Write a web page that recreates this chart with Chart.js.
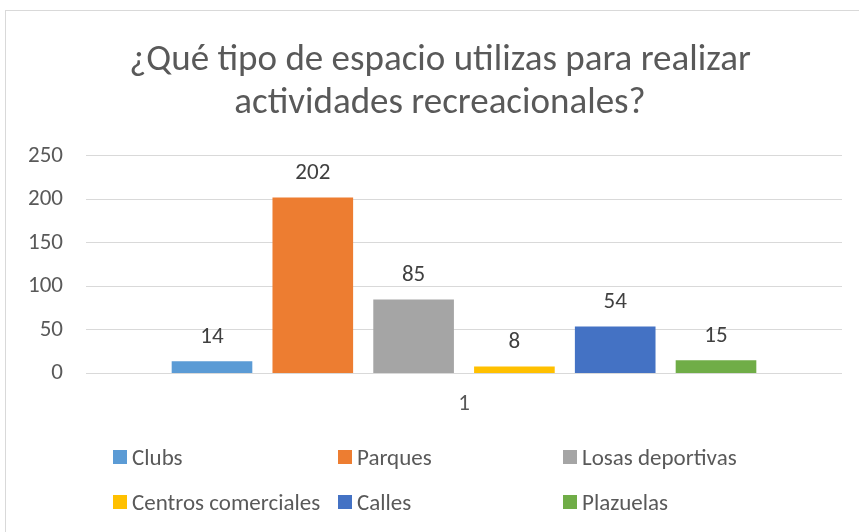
<!DOCTYPE html>
<html>
<head>
<meta charset="utf-8">
<script src="https://cdn.jsdelivr.net/npm/chart.js@4.4.0/dist/chart.umd.min.js"></script>
<style>
  html, body { margin: 0; padding: 0; background: #fff; }
  #wrap { position: relative; width: 859px; height: 532px; overflow: hidden; }
  #frame { position: absolute; left: 5px; top: 10px; width: 900px; height: 600px; border: 1px solid #d9d9d9; }
  canvas { position: absolute; left: 0; top: 0; }
  #legend { position: absolute; left: 113px; top: 434px; display: grid;
    grid-template-columns: 225px 225px 225px; grid-auto-rows: 45px;
    font-family: Carlito, Lato, sans-serif; font-size: 23px; color: #595959; }
  #legend .item { display: flex; align-items: center; white-space: nowrap; height: 45px; }
  #legend .box { width: 14px; height: 14px; margin: 0 5px 0 0; flex: none; }
</style>
</head>
<body>
<div id="wrap">
  <div id="frame"></div>
  <canvas id="chart" width="859" height="532"></canvas>
  <div id="legend"></div>
</div>
<script>
// ===== Data =====
const categories = ['1'];
const seriesNames = ['Clubs', 'Parques', 'Losas deportivas', 'Centros comerciales', 'Calles', 'Plazuelas'];
const seriesValues = [14, 202, 85, 8, 54, 15];
const seriesColors = ['#5B9BD5', '#ED7D31', '#A5A5A5', '#FFC000', '#4472C4', '#70AD47'];
const yTicks = [0, 50, 100, 150, 200, 250];

const fontFamily = "Carlito, Lato, sans-serif";
const textColor = '#595959';

Chart.defaults.font.family = fontFamily;
Chart.defaults.color = textColor;

// value labels above each bar
const valueLabels = {
    id: 'valueLabels',
    afterDatasetsDraw(chart) {
        const { ctx } = chart;
        ctx.save();
        ctx.font = `23px ${fontFamily}`;
        ctx.fillStyle = '#404040';
        ctx.textAlign = 'center';
        ctx.textBaseline = 'middle';
        chart.data.datasets.forEach((ds, i) => {
            chart.getDatasetMeta(i).data.forEach((bar, j) => {
                ctx.fillText(ds.data[j], bar.x, bar.y - 24);
            });
        });
        ctx.restore();
    }
};

// the Excel title sits centred on the whole frame, a bit right of the plot
const titleShift = {
    id: 'titleShift',
    afterLayout(chart) {
        if (chart.titleBlock) {
            chart.titleBlock.left += 19;
            chart.titleBlock.right += 19;
        }
    }
};

const chart = new Chart(document.getElementById('chart'), {
    type: 'bar',
    data: {
        labels: categories,
        datasets: seriesNames.map((name, i) => ({
            label: name,
            data: [seriesValues[i]],
            backgroundColor: seriesColors[i],
            categoryPercentage: 0.8,
            barPercentage: 0.8,
        }))
    },
    options: {
        responsive: false,
        animation: false,
        layout: { padding: { left: 0, right: 17, top: 0, bottom: 105 } },
        plugins: {
            legend: { display: false },
            tooltip: { enabled: false },
            title: {
                display: true,
                text: ['¿Qué tipo de espacio utilizas para realizar', 'actividades recreacionales?'],
                color: textColor,
                font: { size: 37, weight: 'normal', lineHeight: 1.16 },
                padding: { top: 39, bottom: 31 }
            }
        },
        scales: {
            x: {
                grid: { display: false },
                border: { display: false },
                ticks: { padding: 9, font: { size: 23 }, color: textColor }
            },
            y: {
                min: 0,
                max: 250,
                afterBuildTicks: (axis) => { axis.ticks = yTicks.map(v => ({ value: v })); },
                afterFit: (axis) => { axis.width = 86; },
                grid: { color: '#d9d9d9', lineWidth: 1, drawTicks: false },
                border: { display: false },
                ticks: { padding: 23, font: { size: 23 }, color: textColor }
            }
        }
    },
    plugins: [valueLabels, titleShift]
});

// HTML legend in Excel-style columns
const legendEl = document.getElementById('legend');
chart.data.datasets.forEach(ds => {
    const item = document.createElement('div');
    item.className = 'item';
    const box = document.createElement('span');
    box.className = 'box';
    box.style.background = ds.backgroundColor;
    const txt = document.createElement('span');
    txt.textContent = ds.label;
    item.appendChild(box);
    item.appendChild(txt);
    legendEl.appendChild(item);
});
</script>
</body>
</html>
